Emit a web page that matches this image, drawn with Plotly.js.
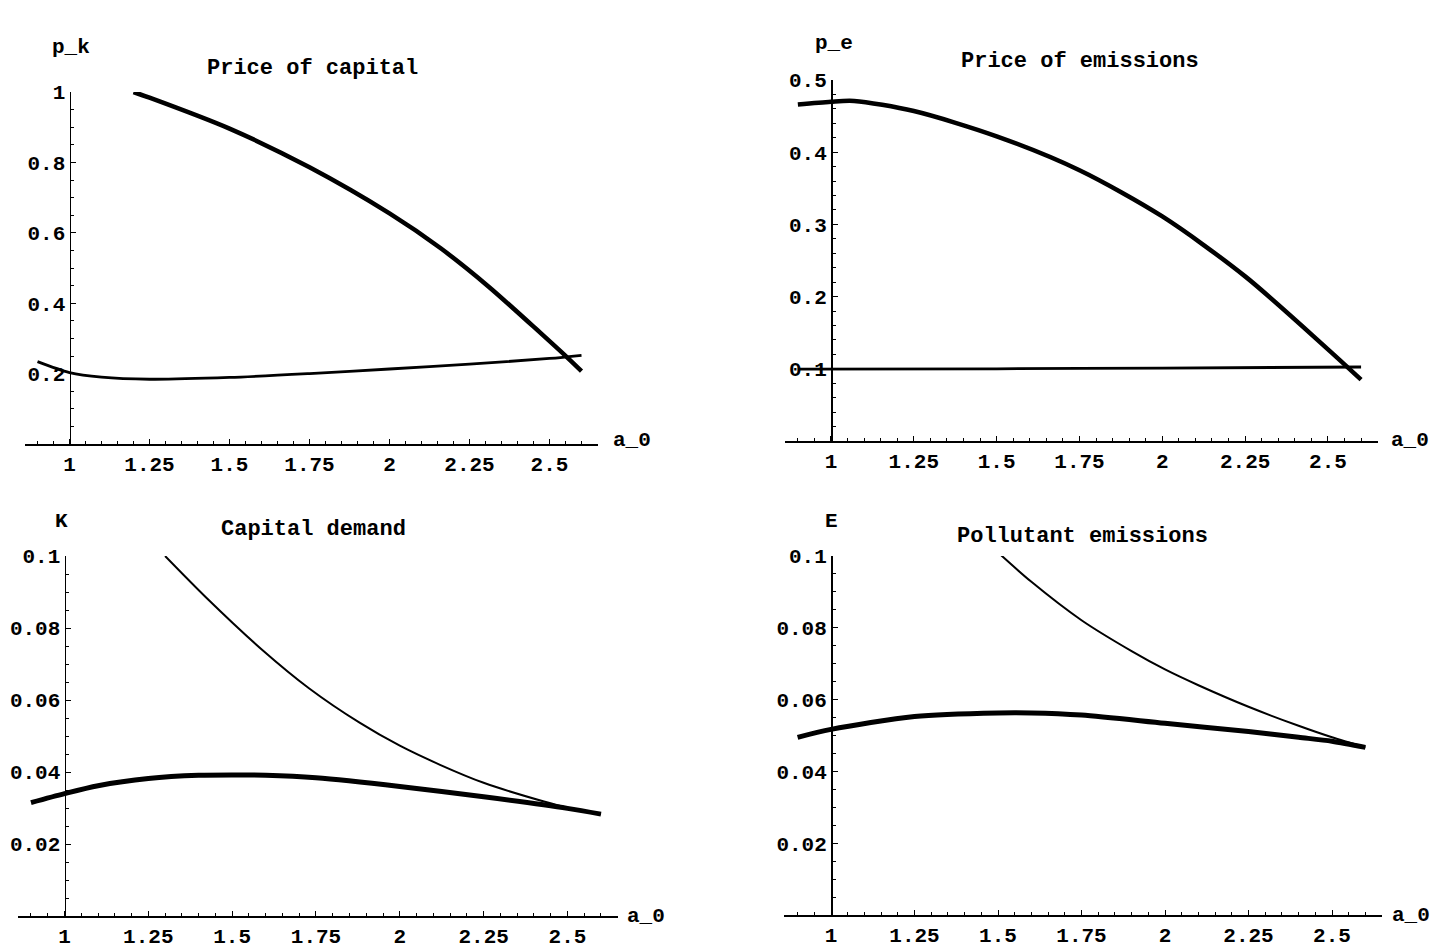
<!DOCTYPE html>
<html>
<head>
<meta charset="utf-8">
<script src="https://cdn.plot.ly/plotly-3.0.1.min.js"></script>
<style>html,body{margin:0;padding:0;background:#fff;}#chart{width:1449px;height:950px;}</style>
</head>
<body>
<div id="chart"></div>
<script>
// ---------------- DATA ----------------
// Panel 1: Price of capital (p_k)
const pk_thick_x = [1.2, 1.25, 1.5, 1.75, 2.0, 2.16, 2.31, 2.47, 2.56, 2.6];
const pk_thick_y = [1.0, 0.984, 0.896, 0.786, 0.655, 0.556, 0.447, 0.317, 0.242, 0.207];
const pk_thin_x  = [0.9, 1.0, 1.1, 1.25, 1.5, 1.75, 2.0, 2.25, 2.5, 2.6];
const pk_thin_y  = [0.234, 0.203, 0.19, 0.184, 0.189, 0.2, 0.213, 0.227, 0.243, 0.252];

// Panel 2: Price of emissions (p_e)
const pe_thick_x = [0.9, 1.0, 1.07, 1.25, 1.5, 1.75, 2.0, 2.25, 2.5, 2.6];
const pe_thick_y = [0.466, 0.470, 0.471, 0.457, 0.422, 0.375, 0.311, 0.228, 0.127, 0.085];
const pe_thin_x  = [0.9, 1.5, 2.0, 2.6];
const pe_thin_y  = [0.0995, 0.1, 0.101, 0.1025];

// Panel 3: Capital demand (K)
const k_thin_x  = [1.3, 1.42, 1.59, 1.73, 1.88, 2.0, 2.12, 2.25, 2.43, 2.5, 2.6];
const k_thin_y  = [0.1, 0.0887, 0.0739, 0.0632, 0.0537, 0.0473, 0.0420, 0.0370, 0.0318, 0.0301, 0.0283];
const k_thick_x = [0.9, 1.0, 1.1, 1.25, 1.4, 1.5, 1.6, 1.75, 2.0, 2.25, 2.5, 2.6];
const k_thick_y = [0.0315, 0.034, 0.0362, 0.0382, 0.0391, 0.0392, 0.0391, 0.0384, 0.036, 0.0331, 0.0299, 0.0283];

// Panel 4: Pollutant emissions (E)
const e_thin_x  = [1.5, 1.6, 1.75, 1.9, 2.0, 2.1, 2.25, 2.4, 2.5, 2.6];
const e_thin_y  = [0.101, 0.0928, 0.0821, 0.0735, 0.0684, 0.064, 0.058, 0.0527, 0.0495, 0.0467];
const e_thick_x = [0.9, 1.0, 1.25, 1.5, 1.6, 1.75, 2.0, 2.25, 2.4, 2.5, 2.6];
const e_thick_y = [0.0495, 0.0517, 0.0553, 0.0563, 0.0563, 0.0557, 0.0534, 0.0511, 0.0495, 0.0484, 0.0467];

// Tick values / labels
const x_tickvals = [1, 1.25, 1.5, 1.75, 2, 2.25, 2.5];
const x_ticktext = ["1", "1.25", "1.5", "1.75", "2", "2.25", "2.5"];
const pk_tickvals = [0.2, 0.4, 0.6, 0.8, 1];
const pk_ticktext = ["0.2", "0.4", "0.6", "0.8", "1"];
const pe_tickvals = [0.1, 0.2, 0.3, 0.4, 0.5];
const pe_ticktext = ["0.1", "0.2", "0.3", "0.4", "0.5"];
const ke_tickvals = [0.02, 0.04, 0.06, 0.08, 0.1];
const ke_ticktext = ["0.02", "0.04", "0.06", "0.08", "0.1"];

// Texts
const titles = ["Price of capital", "Price of emissions", "Capital demand", "Pollutant emissions"];
const ylabels = ["p_k", "p_e", "K", "E"];
const xlabel = "a_0";

// ---------------- LAYOUT GEOMETRY (pixels) ----------------
const W = 1449, H = 950;
const fx = p => p / W;
const fy = p => 1 - p / H;
const FONT = "Liberation Mono, Courier New, monospace";
const TICKFONT = {family: FONT, size: 21, color: "#000", weight: "bold"};

const geo = [
  {x1: 69.5, xs: 320,   xr: [0.86, 2.65], y0: 444, yt: 92,  yr: [0, 1.0],  yminor: 0.05,
   title: [312, 68], ylab: [71, 47], xlab: [632, 441]},
  {x1: 831,  xs: 331.3, xr: [0.86, 2.65], y0: 441, yt: 80,  yr: [0, 0.5],  yminor: 0.02,
   title: [1080, 62], ylab: [834, 44], xlab: [1410, 441]},
  {x1: 64.5, xs: 335.3, xr: [0.86, 2.65], y0: 916, yt: 556, yr: [0, 0.1],  yminor: 0.005,
   title: [313, 529], ylab: [62, 521], xlab: [646, 916]},
  {x1: 831,  xs: 334,   xr: [0.86, 2.65], y0: 915, yt: 556, yr: [0, 0.1],  yminor: 0.005,
   title: [1082, 536], ylab: [831, 521], xlab: [1411, 915]}
];
const ytv = [[pk_tickvals, pk_ticktext], [pe_tickvals, pe_ticktext], [ke_tickvals, ke_ticktext], [ke_tickvals, ke_ticktext]];

const layout = {
  width: W, height: H,
  margin: {l: 0, r: 0, t: 0, b: 0},
  paper_bgcolor: "#fff", plot_bgcolor: "rgba(0,0,0,0)",
  showlegend: false,
  font: {family: FONT, size: 21, color: "#000", weight: "bold"},
  annotations: []
};

geo.forEach((g, i) => {
  const n = i + 1;
  const xa = n === 1 ? "xaxis" : "xaxis" + n;
  const ya = n === 1 ? "yaxis" : "yaxis" + n;
  const yid = n === 1 ? "y" : "y" + n;
  layout[xa] = {
    domain: [fx(g.x1 + (g.xr[0] - 1) * g.xs), fx(g.x1 + (g.xr[1] - 1) * g.xs)],
    range: g.xr, anchor: yid,
    showline: true, linecolor: "#000", linewidth: 1.5,
    showgrid: false, zeroline: false,
    tickmode: "array", tickvals: x_tickvals, ticktext: x_ticktext,
    ticks: "inside", ticklen: 5, tickwidth: 1, tickcolor: "#000",
    minor: {ticks: "inside", ticklen: 3, tickwidth: 1, tickcolor: "#000", tickmode: "linear", tick0: 1, dtick: 0.05},
    tickfont: TICKFONT,
    fixedrange: true
  };
  layout[ya] = {
    domain: [fy(g.y0), fy(g.yt)],
    range: g.yr, anchor: "free", position: fx(g.x1),
    showline: true, linecolor: "#000", linewidth: 1.5,
    showgrid: false, zeroline: false,
    tickmode: "array", tickvals: ytv[i][0], ticktext: ytv[i][1],
    ticks: "inside", ticklen: 5, tickwidth: 1, tickcolor: "#000",
    minor: {ticks: "inside", ticklen: 3, tickwidth: 1, tickcolor: "#000", tickmode: "linear", tick0: 0, dtick: g.yminor},
    tickfont: TICKFONT,
    fixedrange: true
  };
  layout.annotations.push(
    {xref: "paper", yref: "paper", x: fx(g.title[0]), y: fy(g.title[1]), text: titles[i], showarrow: false,
     xanchor: "center", yanchor: "middle", font: {family: FONT, size: 22, color: "#000", weight: "bold"}},
    {xref: "paper", yref: "paper", x: fx(g.ylab[0]), y: fy(g.ylab[1]), text: ylabels[i], showarrow: false,
     xanchor: "center", yanchor: "middle", font: {family: FONT, size: 21, color: "#000", weight: "bold"}},
    {xref: "paper", yref: "paper", x: fx(g.xlab[0]), y: fy(g.xlab[1]), text: xlabel, showarrow: false,
     xanchor: "center", yanchor: "middle", font: {family: FONT, size: 21, color: "#000", weight: "bold"}}
  );
});

function tr(x, y, n, w) {
  return {
    x: x, y: y, type: "scatter", mode: "lines",
    xaxis: n === 1 ? "x" : "x" + n, yaxis: n === 1 ? "y" : "y" + n,
    line: {color: "#000", width: w, shape: "spline", smoothing: 0.8},
    hoverinfo: "skip"
  };
}

const data = [
  tr(pk_thick_x, pk_thick_y, 1, 4.5),
  tr(pk_thin_x, pk_thin_y, 1, 2.8),
  tr(pe_thick_x, pe_thick_y, 2, 4.5),
  tr(pe_thin_x, pe_thin_y, 2, 2.8),
  tr(k_thin_x, k_thin_y, 3, 2),
  tr(k_thick_x, k_thick_y, 3, 5),
  tr(e_thin_x, e_thin_y, 4, 2),
  tr(e_thick_x, e_thick_y, 4, 5)
];

Plotly.newPlot("chart", data, layout, {staticPlot: true, displayModeBar: false});
</script>
</body>
</html>
